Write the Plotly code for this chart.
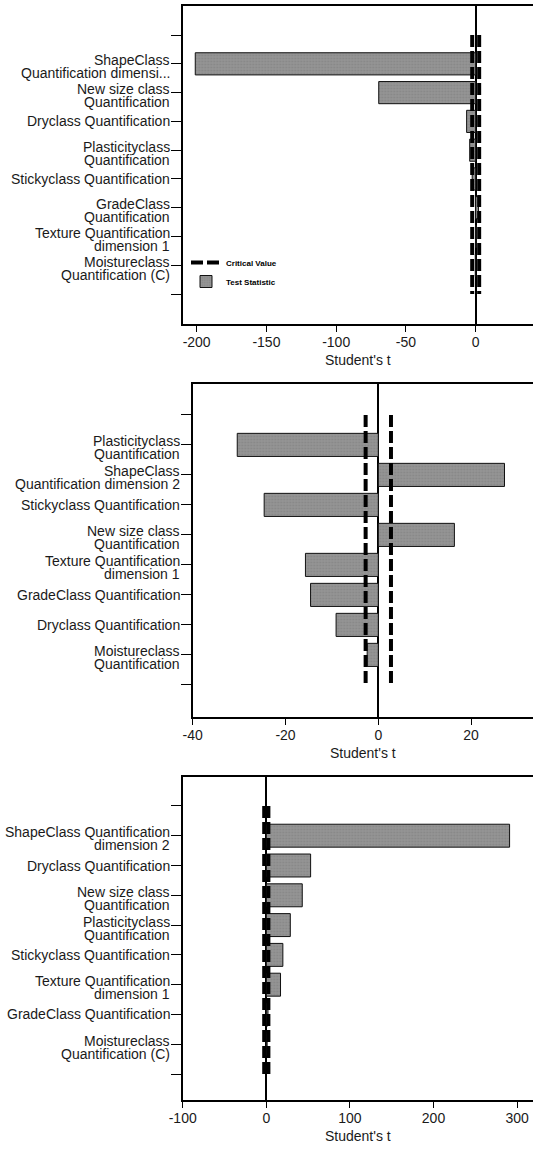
import plotly.graph_objects as go

W, H = 533, 1153
FONT = "Liberation Sans, Arial, sans-serif"

# ---------------- data ----------------
p1_labels = ["ShapeClass\nQuantification dimensi...", "New size class\nQuantification",
             "Dryclass Quantification", "Plasticityclass\nQuantification",
             "Stickyclass Quantification", "GradeClass\nQuantification",
             "Texture Quantification\ndimension 1", "Moistureclass\nQuantification (C)"]
p1_values = [-201.0, -69.5, -6.5, -4.3, -2.5, 2.0, 0.4, -0.3]
p1_crit = [-2.5, 2.5]
p1_xticks = [-200, -150, -100, -50, 0]

p2_labels = ["Plasticityclass\nQuantification", "ShapeClass\nQuantification dimension 2",
             "Stickyclass Quantification", "New size class\nQuantification",
             "Texture Quantification\ndimension 1", "GradeClass Quantification",
             "Dryclass Quantification", "Moistureclass\nQuantification"]
p2_values = [-30.4, 27.2, -24.6, 16.4, -15.7, -14.6, -9.1, -2.4]
p2_crit = [-2.73, 2.73]
p2_xticks = [-40, -20, 0, 20]

p3_labels = ["ShapeClass Quantification\ndimension 2", "Dryclass Quantification",
             "New size class\nQuantification", "Plasticityclass\nQuantification",
             "Stickyclass Quantification", "Texture Quantification\ndimension 1",
             "GradeClass Quantification", "Moistureclass\nQuantification (C)"]
p3_values = [291.0, 53.0, 43.0, 28.7, 19.8, 17.0, 2.0, 1.0]
p3_crit = [-2.5, 2.5]
p3_xticks = [-100, 0, 100, 200, 300]

x_title = "Student's t"
legend_names = ["<b>Critical Value</b>", "<b>Test Statistic</b>"]

# ---------------- layout geometry (pixels) ----------------
panels = [
    dict(labels=p1_labels, values=p1_values, crit=p1_crit, xticks=p1_xticks,
         left=182.7, top=6, bottom=324, xrange=[-210.0, 41.08], yrange=[9.04, -2.01], legend=True),
    dict(labels=p2_labels, values=p2_values, crit=p2_crit, xticks=p2_xticks,
         left=192.7, top=384, bottom=717, xrange=[-40.0, 33.34], yrange=[9.07, -2.03], legend=False),
    dict(labels=p3_labels, values=p3_values, crit=p3_crit, xticks=p3_xticks,
         left=182.7, top=777, bottom=1100, xrange=[-100.0, 319.0], yrange=[8.87, -1.97], legend=False),
]

fig = go.Figure()
annotations = []
layout_axes = {}

for k, p in enumerate(panels, start=1):
    xa = "x" if k == 1 else f"x{k}"
    ya = "y" if k == 1 else f"y{k}"
    xkey = "xaxis" if k == 1 else f"xaxis{k}"
    ykey = "yaxis" if k == 1 else f"yaxis{k}"
    n = len(p["values"])
    pos = list(range(n))

    fig.add_trace(go.Bar(
        x=p["values"], y=pos, orientation="h", width=0.77,
        marker=dict(color="#939393", line=dict(color="#111", width=1),
                    pattern=dict(shape=".", bgcolor="#959595", fgcolor="#777777",
                                 size=3, solidity=0.35)),
        name=legend_names[1], showlegend=p["legend"], legendrank=2,
        xaxis=xa, yaxis=ya, hoverinfo="skip"))
    for j, c in enumerate(p["crit"]):
        fig.add_trace(go.Scatter(
            x=[c, c], y=[-1, n], mode="lines",
            line=dict(color="black", width=4, dash="12px,4px"),
            name=legend_names[0], showlegend=(p["legend"] and j == 0), legendrank=1,
            xaxis=xa, yaxis=ya, hoverinfo="skip"))

    layout_axes[xkey] = dict(
        domain=[p["left"] / W, 1.0], anchor=ya, range=p["xrange"],
        tickmode="array", tickvals=p["xticks"], ticktext=[str(v) for v in p["xticks"]],
        ticks="outside", ticklen=6, ticklabelstandoff=-2,
        tickcolor="black", tickwidth=1.3,
        showline=True, linecolor="black", linewidth=1.5, mirror=True,
        zeroline=True, zerolinecolor="black", zerolinewidth=1.5,
        showgrid=False, automargin=False,
        tickfont=dict(family=FONT, size=14, color="#1a1a1a"))
    layout_axes[ykey] = dict(
        domain=[1 - p["bottom"] / H, 1 - p["top"] / H], anchor=xa, range=p["yrange"],
        tickmode="array", tickvals=list(range(-1, n + 1)), ticks="outside", ticklen=10,
        tickcolor="black", tickwidth=1.3, showticklabels=False,
        showline=True, linecolor="black", linewidth=1.5, mirror=False,
        zeroline=False, showgrid=False, automargin=False)

    # category labels (one annotation per text line)
    for i, lab in enumerate(p["labels"]):
        lines = lab.split("\n")
        shifts = [0] if len(lines) == 1 else [3.5, -9.5]
        for line, sh in zip(lines, shifts):
            annotations.append(dict(
                text=line, xref="paper", x=(p["left"] - 11) / W, xanchor="right",
                yref=ya, y=i, yshift=sh, yanchor="middle", showarrow=False,
                font=dict(family=FONT, size=14, color="#1a1a1a")))
    # axis title
    annotations.append(dict(
        text=x_title, xref=f"{xa} domain", x=0.5, xanchor="center",
        yref=f"{ya} domain", y=0, yshift=-36, yanchor="middle", showarrow=False,
        font=dict(family=FONT, size=14, color="#1a1a1a")))

fig.update_layout(
    width=W, height=H, margin=dict(l=0, r=0, t=0, b=0),
    paper_bgcolor="white", plot_bgcolor="white",
    annotations=annotations,
    legend=dict(x=186 / W, y=1 - 248 / H, xanchor="left", yanchor="top",
                bgcolor="rgba(0,0,0,0)", font=dict(family=FONT, size=8, color="black"),
                itemwidth=30, tracegroupgap=0, traceorder="normal"),
    **layout_axes)

fig.write_html("out.html", config={"displayModeBar": False},
               post_script="document.body.style.margin='0';document.body.style.padding='0';")
